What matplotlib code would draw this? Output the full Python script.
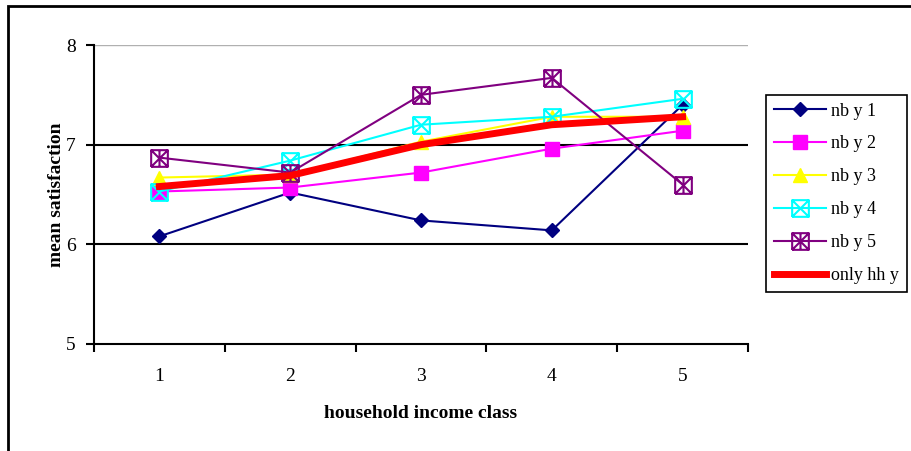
import numpy as np
import matplotlib
matplotlib.use("Agg")
from matplotlib import pyplot as plt
from matplotlib.path import Path
from matplotlib.patches import Rectangle

# household income classes and mean satisfaction per series
classes = [1, 2, 3, 4, 5]
nb_y1 = [6.08, 6.52, 6.24, 6.14, 7.40]
nb_y2 = [6.53, 6.57, 6.72, 6.96, 7.14]
nb_y3 = [6.67, 6.70, 7.03, 7.28, 7.28]
nb_y4 = [6.53, 6.84, 7.20, 7.28, 7.46]
nb_y5 = [6.87, 6.72, 7.50, 7.67, 6.60]
only_hh = [6.58, 6.69, 7.00, 7.20, 7.28]

labels = ['nb y 1', 'nb y 2', 'nb y 3', 'nb y 4', 'nb y 5', 'only hh y']

plt.rcParams['font.family'] = ['Liberation Serif', 'DejaVu Serif']

# Excel style markers: box with x, box with asterisk
M, L = Path.MOVETO, Path.LINETO
box = [(-1, -1), (1, -1), (1, 1), (-1, 1), (-1, -1)]
box_codes = [M, L, L, L, L]
xs = [(-1, -1), (1, 1), (-1, 1), (1, -1)]
xs_codes = [M, L, M, L]
boxx = Path(box + xs, box_codes + xs_codes)
boxstar = Path(box + xs + [(0, -1), (0, 1)], box_codes + xs_codes + [M, L])

fig = plt.figure(figsize=(9.12, 4.51), dpi=100)
ax = fig.add_axes([94 / 912, 1 - 344 / 451, (748 - 94) / 912, (344 - 45) / 451])

ax.plot(classes, nb_y1, color='#000080', lw=1.5, marker='D', ms=7.5, label=labels[0])
ax.plot(classes, nb_y2, color='#FF00FF', lw=1.5, marker='s', ms=9.5, label=labels[1])
ax.plot(classes, nb_y3, color='#FFFF00', lw=1.5, marker='^', ms=10, label=labels[2])
ax.plot(classes, nb_y4, color='#00FFFF', lw=1.5, marker=boxx, ms=12, mfc='none',
        mew=1.5, label=labels[3])
ax.plot(classes, nb_y5, color='#800080', lw=1.5, marker=boxstar, ms=12, mfc='none',
        mew=1.5, label=labels[4])
ax.plot(classes, only_hh, color='#FF0000', lw=5, label=labels[5])

ax.axhline(8, color='#b0b0b0', lw=1, zorder=0)
ax.axhline(7, color='black', lw=1.5, zorder=0)
ax.axhline(6, color='black', lw=1.5, zorder=0)

ax.set_xlim(0.5, 5.5)
ax.set_ylim(5, 8)
ax.set_yticks([5, 6, 7, 8])
ax.set_xticks(np.arange(0.5, 6, 1))
ax.set_xticklabels([])
ax.set_xticks(classes, minor=True)
ax.set_xticklabels([str(c) for c in classes], minor=True)
ax.tick_params(axis='x', which='major', direction='out', length=6, width=1.5)
ax.tick_params(axis='x', which='minor', length=0, pad=17, labelsize=14)
ax.tick_params(axis='y', direction='out', length=6, width=1.5, labelsize=14, pad=7)

for s in ['top', 'right']:
    ax.spines[s].set_visible(False)
for s in ['left', 'bottom']:
    ax.spines[s].set_linewidth(1.5)

ax.set_xlabel('household income class', fontsize=14, fontweight='bold', labelpad=15)
ax.set_ylabel('mean satisfaction', fontsize=14, fontweight='bold', labelpad=1)

leg = fig.legend(loc='upper left', bbox_to_anchor=(766 / 912, 1 - 95 / 451),
                 borderaxespad=0, fontsize=13, frameon=True, fancybox=False,
                 edgecolor='black', framealpha=1, handlelength=2.9,
                 handletextpad=0.3, labelspacing=0.88, borderpad=0.42)
leg.get_frame().set_linewidth(1.2)

# outer chart border, cut off at right and bottom
fig.patches.append(Rectangle((8 / 912, -0.1), 1.2, 1 - 6 / 451 + 0.1,
                             transform=fig.transFigure, fill=False,
                             edgecolor='black', lw=2))

fig.savefig('out.png', dpi=100)
